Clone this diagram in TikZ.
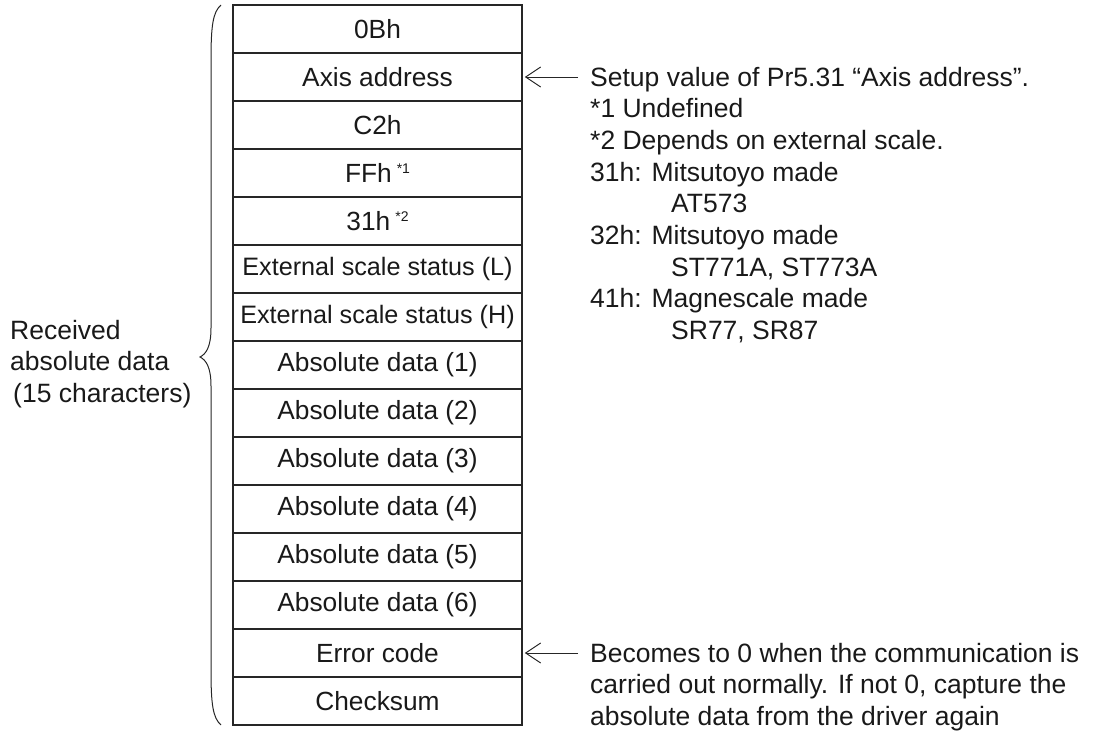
\documentclass[tikz,border=0pt]{standalone}
\usepackage{fontspec}
\setmainfont{Liberation Sans}
\usetikzlibrary{arrows.meta}
\newcommand\mysup[1]{\hspace{5pt}\raisebox{9pt}{\fontsize{14}{14}\selectfont *#1}}
\begin{document}
\begin{tikzpicture}[x=1pt,y=-1pt,
  cell/.style={draw=black!85, line width=1.6pt, minimum width=289pt, minimum height=48pt,
    inner sep=0pt, font=\fontsize{26.3}{30}\selectfont, text=black!90},
  narrow/.style={font=\fontsize{25.2}{30}\selectfont},
  lbl/.style={anchor=base west, inner sep=0pt, font=\fontsize{26.5}{30}\selectfont, text=black!90},
  arr/.style={-{Straight Barb[length=15pt,width=20pt]}, line width=1pt, draw=black!85},
  brace/.style={line width=1pt, draw=black!85}]
\useasboundingbox (0,0) rectangle (1093,731);
% table rows
\foreach \t [count=\i] in {0Bh, Axis address, C2h, FFh\mysup{1}, 31h\mysup{2}}
  \node[cell] (r\i) at (377.5,{5+48*(\i-0.5)}) {\t};
\node[cell,narrow] (r6) at (377.5,269) {External scale status (L)};
\node[cell,narrow] (r7) at (377.5,317) {External scale status (H)};
\foreach \t [count=\j from 8] in {Absolute data (1), Absolute data (2), Absolute data (3),
  Absolute data (4), Absolute data (5), Absolute data (6), Error code, Checksum}
  \node[cell] (r\j) at (377.5,{5+48*(\j-0.5)}) {\t};
% brace
\draw[brace] (221,5) .. controls (213,12) and (211,25) .. (211,60) -- (211,328)
  .. controls (211,347) and (206,354) .. (200,357)
  .. controls (206,360) and (211,367) .. (211,386) -- (211,670)
  .. controls (211,705) and (213,718) .. (221,725);
% left label
\node[lbl] (L1) at (10,339) {Received};
\node[lbl] (L2) at (10,370.5) {absolute data};
\node[lbl] (L3) at (13,402) {(15 characters)};
% arrows
\coordinate (a1) at (578,77);
\coordinate (a2) at (578,653);
\draw[arr] (a1) -- ([xshift=2pt]r2.east);
\draw[arr] (a2) -- ([xshift=2pt]r14.east);
% right notes
\node[lbl] (t1) at (590,86) {Setup value of Pr5.31 “Axis address”.};
\node[lbl] (t2) at (590,117.7) {*1 Undefined};
\node[lbl] (t3) at (590,149.4) {*2 Depends on external scale.};
\node[lbl] (t4) at (590,181.1) {31h: Mitsutoyo made};
\node[lbl] (t5) at (671,212.8) {AT573};
\node[lbl] (t6) at (590,244.5) {32h: Mitsutoyo made};
\node[lbl] (t7) at (671,276.2) {ST771A, ST773A};
\node[lbl] (t8) at (590,307.9) {41h: Magnescale made};
\node[lbl] (t9) at (671,339.6) {SR77, SR87};
\node[lbl] (b1) at (590,662) {Becomes to 0 when the communication is};
\node[lbl] (b2) at (590,693.5) {carried out normally. If not 0, capture the};
\node[lbl] (b3) at (590,725) {absolute data from the driver again};
\end{tikzpicture}
\end{document}
